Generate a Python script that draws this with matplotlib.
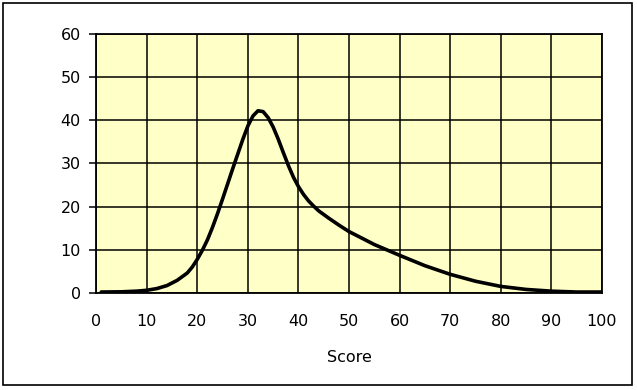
import matplotlib.pyplot as plt
from matplotlib.patches import Rectangle

# valores
score = [1, 5, 8, 10, 12, 14, 16, 18, 19, 20, 21, 22, 23, 24, 25, 26, 27, 28, 29,
         30, 31, 32, 33, 34, 35, 36, 37, 38, 39, 40, 41, 42, 43, 44, 46, 48, 50,
         55, 60, 65, 70, 75, 80, 85, 90, 95, 100]
freq = [0.2, 0.25, 0.4, 0.6, 1.0, 1.7, 2.9, 4.6, 6.0, 7.8, 9.9, 12.3, 15.2, 18.4,
        21.8, 25.3, 28.8, 32.2, 35.6, 38.7, 41.0, 42.2, 42.0, 40.6, 38.4, 35.6,
        32.5, 29.5, 26.8, 24.6, 22.8, 21.3, 20.1, 19.0, 17.3, 15.7, 14.2, 11.2,
        8.7, 6.3, 4.3, 2.7, 1.5, 0.8, 0.4, 0.2, 0.2]

x_ticks = [0, 10, 20, 30, 40, 50, 60, 70, 80, 90, 100]
y_ticks = [0, 10, 20, 30, 40, 50, 60]

fig = plt.figure(figsize=(6.37, 3.90), dpi=100)
ax = fig.add_axes([0.151, 0.249, 0.794, 0.664])
ax.set_facecolor('#FFFFC8')

ax.plot(score, freq, color='black', linewidth=2.6, solid_capstyle='round',
        solid_joinstyle='round')

ax.set_xlim(0, 100)
ax.set_ylim(0, 60)
ax.set_xticks(x_ticks)
ax.set_yticks(y_ticks)
ax.grid(True, color='black', linewidth=1.1)
ax.set_axisbelow(True)
for s in ax.spines.values():
    s.set_color('black')
    s.set_linewidth(1.3)

ax.tick_params(axis='x', length=0, pad=15, labelsize=11.5)
ax.tick_params(axis='y', length=5, width=1.1, direction='out', pad=6, labelsize=11.5)

ax.set_xlabel('Score', fontsize=11.5, labelpad=15)

# marco exterior
fig.patches.append(Rectangle((0.004, 0.012), 0.988, 0.98, transform=fig.transFigure,
                             fill=False, edgecolor='black', linewidth=1.2))

fig.savefig('out.png', dpi=100)
